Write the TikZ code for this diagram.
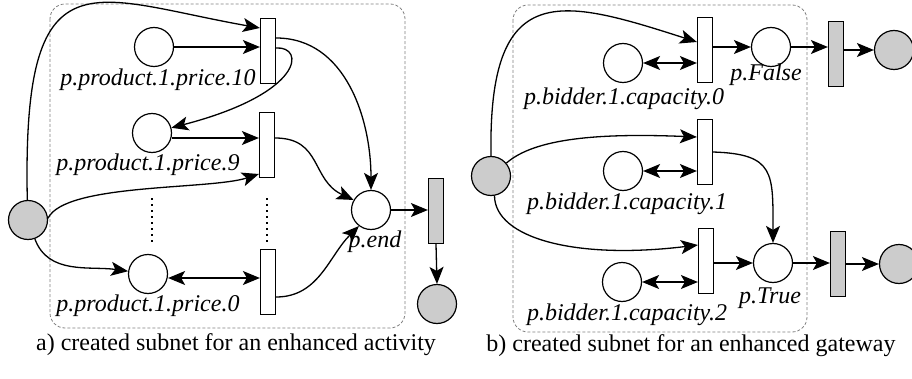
\documentclass[tikz,border=0pt]{standalone}
\usepackage{fontspec}
\setmainfont{Liberation Serif}
\usetikzlibrary{arrows.meta}
\definecolor{tokgray}{gray}{0.8}
\begin{document}
\begin{tikzpicture}[x=1pt,y=1pt,
  place/.style={circle, draw, line width=1.2pt, minimum size=39pt, inner sep=0pt, fill=white},
  startplace/.style={place, fill=tokgray},
  trans/.style={rectangle, draw, line width=1.2pt, minimum width=15pt, minimum height=65pt, inner sep=0pt, fill=white},
  silent/.style={trans, fill=tokgray},
  tip/.style={Stealth[length=17pt,width=14pt,inset=4pt]},
  arc/.style={line width=1.3pt, -{Stealth[length=17pt,width=14pt,inset=4pt]}},
  biarc/.style={line width=1.3pt, {Stealth[length=17pt,width=14pt,inset=4pt]}-{Stealth[length=17pt,width=14pt,inset=4pt]}},
  lbl/.style={font=\fontsize{24}{28}\selectfont\itshape, inner sep=0pt},
  caption/.style={font=\fontsize{24}{28}\selectfont, inner sep=0pt},
  frame/.style={draw=black!50, line width=0.8pt, dash pattern=on 3pt off 2pt, rounded corners=15pt},
  ellipsis/.style={line width=1.8pt, dash pattern=on 2pt off 4pt},
]
\useasboundingbox (0,0) rectangle (912,378);

% ---------- a) subnet for an enhanced activity ----------
\draw[frame] (50,374) rectangle (405,50);

\node[place] (p10) at (154,331) {};
\node[trans] (t10) at (268,327) {};
\node[place] (p9) at (152,245) {};
\node[trans] (t9) at (267,233) {};
\node[place] (p0) at (148,104) {};
\node[trans] (t0) at (268,96) {};
\node[startplace] (s1) at (28,158) {};
\node[place] (pend) at (371,168) {};
\node[silent] (g1) at (436,167) {};
\node[startplace] (e1) at (437,74) {};

\node[lbl] (l10) at (158,298) {p.product.1.price.10};
\node[lbl] (l9) at (148,213) {p.product.1.price.9};
\node[lbl] (l0) at (148,72) {p.product.1.price.0};
\node[lbl] (lend) at (375,136) {p.end};
\node[caption] (capa) at (236,33) {a) created subnet for an enhanced activity};

% omitted price levels
\draw[ellipsis] (152,180) -- (152,135);
\draw[ellipsis] (267,180) -- (267,135);

\coordinate (p9out) at ([yshift=-5pt]p9.east);
\coordinate (p0out) at ([yshift=-4pt]p0.east);

\draw[arc] (s1.92) .. controls (22,430) and (90,380) .. ([yshift=23pt]t10.west);
\draw[arc] (p10.east) -- (t10.west |- p10.east);
\draw[arc] ([yshift=13pt]t10.east) .. controls (346,340) and (371,258) .. (pend.north);
\draw[arc] ([yshift=3pt]t10.east) .. controls (305,332) and (305,285) .. (p9.15);
\draw[arc] (p9out) -- (t9.west |- p9out);
\draw[arc] ([yshift=7pt]t9.east) to[out=0, in=155, looseness=1.2] (pend.150);
\draw[arc] (s1.5) .. controls (65,195) and (210,188) .. ([yshift=-29pt]t9.west);
\draw[arc] (s1.-70) to[out=-70, in=172] (p0.172);
\draw[biarc] (p0out) -- (t0.west |- p0out);
\draw[arc] ([yshift=-15pt]t0.east) to[out=0, in=225] (pend.233);
\draw[arc] (pend.east) -- (g1.west |- pend.east);
\draw[arc] (g1.south) -- (e1.north);

% ---------- b) subnet for an enhanced gateway ----------
\draw[frame] (513,373) rectangle (807,46);

\node[startplace] (s2) at (491,202) {};
\node[trans] (tc0) at (705,328) {};
\node[place] (c0) at (623,315) {};
\node[place] (pF) at (771,331) {};
\node[silent] (gF) at (836,324) {};
\node[startplace] (eF) at (894,328) {};
\node[trans] (tc1) at (705,226) {};
\node[place] (c1) at (623,207) {};
\node[trans] (tc2) at (706,117) {};
\node[place] (c2) at (622,96) {};
\node[place] (pT) at (773,115) {};
\node[silent] (gT) at (838,114) {};
\node[startplace] (eT) at (899,114) {};

\node[lbl] (lc0) at (624,279) {p.bidder.1.capacity.0};
\node[lbl] (lF) at (766,303) {p.False};
\node[lbl] (lc1) at (627,174) {p.bidder.1.capacity.1};
\node[lbl] (lT) at (770,80) {p.True};
\node[lbl] (lc2) at (627,63) {p.bidder.1.capacity.2};
\node[caption] (capb) at (691,32) {b) created subnet for an enhanced gateway};

\draw[arc] (s2.north) .. controls (488,400) and (560,380) .. ([yshift=8pt]tc0.west);
\draw[biarc] (c0.east) -- (tc0.west |- c0.east);
\draw[arc] (tc0.east |- pF.west) -- (pF.west);
\draw[arc] (pF.east) -- (gF.west |- pF.east);
\draw[arc] (gF.east |- eF.west) -- (eF.west);

\draw[arc] (s2.40) .. controls (535,240) and (600,245) .. ([yshift=15pt]tc1.west);
\draw[biarc] (c1.east) -- (tc1.west |- c1.east);
\draw[arc] (tc1.east) .. controls (775,224) and (773,205) .. (pT.north);

\draw[arc] (s2.-80) .. controls (495,140) and (575,118) .. ([yshift=16pt]tc2.west);
\draw[biarc] (c2.east) -- (tc2.west |- c2.east);
\draw[arc] (tc2.east |- pT.west) -- (pT.west);
\draw[arc] (pT.east) -- (gT.west |- pT.east);
\draw[arc] (gT.east |- eT.west) -- (eT.west);
\end{tikzpicture}
\end{document}
